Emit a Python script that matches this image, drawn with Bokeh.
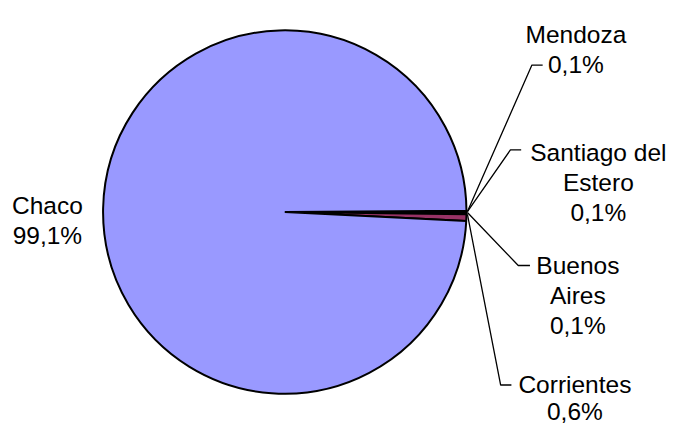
import math
from bokeh.plotting import figure
from bokeh.models import Range1d, ColumnDataSource
from bokeh.core.properties import value
from bokeh.embed import file_html
from bokeh.resources import INLINE

# ---- data (clockwise order from the start angle) ----
names = ["Mendoza", "Santiago del Estero", "Buenos Aires", "Corrientes", "Chaco"]
shares = [0.1, 0.1, 0.1, 0.6, 99.1]
pct_labels = ["0,1%", "0,1%", "0,1%", "0,6%", "99,1%"]
label_lines = [["Mendoza", "0,1%"], ["Santiago del", "Estero", "0,1%"],
               ["Buenos", "Aires", "0,1%"], ["Corrientes", "0,6%"], ["Chaco", "99,1%"]]
colors = ["#660066", "#CCFFFF", "#FFFFCC", "#993366", "#9999FF"]

# ---- layout (reference pixel coordinates; mapped onto the figure) ----
W, H = 692, 441
PW, PH = 676, 425
cx, cy, R = 291, 219.5, 186
start_deg = 0.4
label_pos = [(589, 35), (612, 158), (591, 275), (588, 398), (48, 213)]
line_gap = [31, 31, 31, 28, 31]
leaders = [
    [(478, 219), (544, 67), (555, 67)],
    [(478, 219), (522, 155), (533, 155)],
    [(478, 220), (530, 275), (542, 275)],
    [(478, 222), (512, 399), (523, 399)],
    None,
]
FONT = value("Liberation Sans")
FSIZE = "24.5px"

def Y(y):
    return H - y

p = figure(width=PW, height=PH, output_backend="svg", toolbar_location=None,
           x_range=Range1d(0, W), y_range=Range1d(0, H), min_border=0)
p.axis.visible = False
p.grid.visible = False
p.outline_line_color = None
p.background_fill_color = "white"

total = sum(shares)
cum = 0.0
starts, ends = [], []
a0 = math.radians(start_deg)
for s in shares:
    b = cum
    cum += s
    starts.append(a0 - 2 * math.pi * cum / total)
    ends.append(a0 - 2 * math.pi * b / total)

src = ColumnDataSource(dict(x=[cx] * len(names), y=[Y(cy)] * len(names),
                            start=starts, end=ends, color=colors, name=names))
p.wedge(x="x", y="y", radius=R * PW / W, radius_units="screen", start_angle="start",
        end_angle="end", fill_color="color", line_color="black", line_width=2,
        source=src)

for pts in leaders:
    if pts is None:
        continue
    p.line([q[0] for q in pts], [Y(q[1]) for q in pts], line_color="black",
           line_width=1.3)

for lines, (lx, ly), gap in zip(label_lines, label_pos, line_gap):
    for i, t in enumerate(lines):
        p.text(x=[lx], y=[Y(ly + i * gap)], text=[t], text_align="center",
               text_baseline="alphabetic", text_font=FONT, text_font_size=FSIZE,
               text_color="black")

open("out.html", "w").write(file_html(p, INLINE))
